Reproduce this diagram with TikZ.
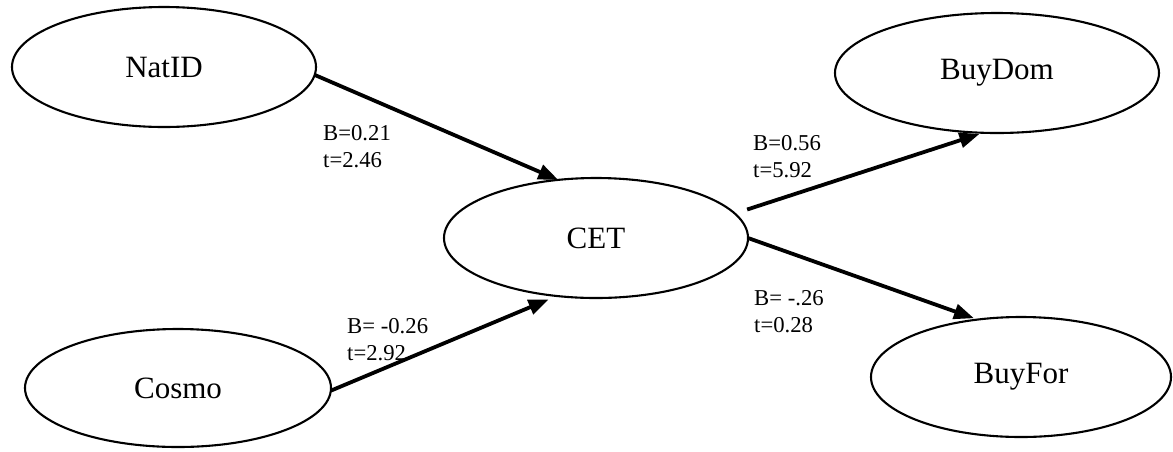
\documentclass[tikz,border=0pt]{standalone}
\usepackage{fontspec}
\setmainfont{Liberation Serif}
\usetikzlibrary{shapes.geometric,arrows.meta}
\begin{document}
\begin{tikzpicture}[x=1pt,y=-1pt,
  var/.style={ellipse,draw,line width=2.1pt,inner sep=0pt,outer sep=0pt,
    font=\fontsize{31}{36}\selectfont},
  path/.style={line width=3.8pt,-{Triangle[length=20pt,width=15pt]}},
  lbl/.style={anchor=north west,inner sep=0pt,align=left,
    font=\fontsize{22.7}{27}\selectfont}]
\useasboundingbox (0,0) rectangle (1173,451);
\node[var,minimum width=304pt,minimum height=120pt] (NatID) at (164,67) {NatID};
\node[var,minimum width=324pt,minimum height=120pt] (BuyDom) at (997,73) {BuyDom};
\node[var,minimum width=304pt,minimum height=120pt] (CET) at (596,238) {CET};
\node[var,minimum width=306pt,minimum height=118pt] (Cosmo) at (178,388) {Cosmo};
\node[var,minimum width=300pt,minimum height=120pt] (BuyFor) at (1021,377) {BuyFor};

\draw[path] (NatID.-3) -- (CET.123);
\draw[path,shorten >=9pt] (Cosmo.-1) -- (CET.-124);
\draw[path,shorten <=13pt,shorten >=4pt] (CET.10) -- (BuyDom.-103);
\draw[path,shorten >=4pt] (CET.0) -- (BuyFor.127);

\node[lbl] (l1) at (323,125) {B=0.21\\t=2.46};
\node[lbl] (l2) at (753,135) {B=0.56\\t=5.92};
\node[lbl] (l3) at (347,318) {B= -0.26\\t=2.92};
\node[lbl] (l4) at (754,290) {B= -.26\\t=0.28};
\end{tikzpicture}
\end{document}
